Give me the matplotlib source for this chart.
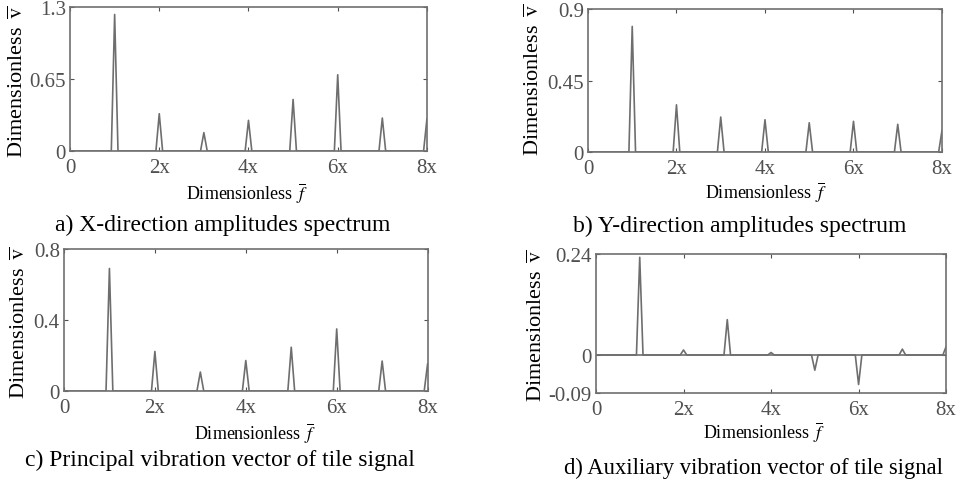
import numpy as np
import matplotlib
matplotlib.use('Agg')
import matplotlib.pyplot as plt

plt.rcParams['font.family'] = ['Liberation Serif', 'DejaVu Serif']
plt.rcParams['mathtext.fontset'] = 'stix'

# harmonic orders (1x .. 8x) and peak heights
orders       = [1, 2, 3, 4, 5, 6, 7, 8]
x_peaks      = [1.234, 0.337, 0.166, 0.277, 0.466, 0.689, 0.298, 0.29]
y_peaks      = [0.791, 0.297, 0.220, 0.203, 0.184, 0.193, 0.174, 0.136]
main_peaks   = [0.691, 0.223, 0.107, 0.172, 0.247, 0.350, 0.169, 0.154]
aux_peaks    = [0.232, 0.012, 0.084, 0.006, -0.036, -0.070, 0.014, 0.02]

xtick_vals   = [0, 2, 4, 6, 8]
xtick_labels = ['0', '2x', '4x', '6x', '8x']

captions = ['a) X-direction amplitudes spectrum',
            'b) Y-direction amplitudes spectrum',
            'c) Principal vibration vector of tile signal',
            'd) Auxiliary vibration vector of tile signal']
yticks_all = [[0, 0.65, 1.3], [0, 0.45, 0.9], [0, 0.4, 0.8], [-0.09, 0, 0.24]]
yticklabels_all = [['0', '0.65', '1.3'], ['0', '0.45', '0.9'],
                   ['0', '0.4', '0.8'], ['-0.09', '0', '0.24']]
peaks_all = [x_peaks, y_peaks, main_peaks, aux_peaks]

# axes boxes [left, bottom, width, height]
boxes = [[0.0728, 0.684, 0.371, 0.299],
         [0.6112, 0.682, 0.368, 0.297],
         [0.0665, 0.185, 0.378, 0.295],
         [0.6195, 0.181, 0.364, 0.289]]
cap_pos  = [(0.231, 0.532), (0.769, 0.530), (0.229, 0.042), (0.783, 0.027)]
cap_size = [17, 17, 17, 16.3]
xlab_pos = [(0.496, -0.285), (0.503, -0.273), (0.525, -0.289), (0.48, -0.273)]
ylab_pos = [(-0.146, 0.49), (-0.153, 0.51), (-0.121, 0.49), (-0.169, 0.49)]

half = 0.075


def spectrum_line(peaks):
    xs, ys = [0.0], [0.0]
    for k, h in zip(orders, peaks):
        xs += [k - half, k, k + half]
        ys += [0.0, h, 0.0]
    return xs, ys


fig = plt.figure(figsize=(9.62, 4.81), dpi=100)
line_col = '#6e6e6e'
tick_col = '#505050'

for i in range(4):
    ax = fig.add_axes(boxes[i])
    xs, ys = spectrum_line(peaks_all[i])
    ax.plot(xs, ys, color=line_col, lw=1.2)
    yt = yticks_all[i]
    ax.set_xlim(0, 8)
    ax.set_ylim(yt[0], yt[-1])
    ax.set_xticks(xtick_vals)
    ax.set_xticklabels(xtick_labels)
    ax.set_yticks(yt)
    ax.set_yticklabels(yticklabels_all[i])
    ax.tick_params(direction='in', length=3, width=0.8, colors=tick_col,
                   labelsize=15, top=True, right=True, pad=3)
    ax.tick_params(axis='x', pad=5)
    for sp in ax.spines.values():
        sp.set_color('#707070')
        sp.set_linewidth(1.2)
    ax.set_xlabel(r'Dimensionless $\,\overline{f}$', fontsize=13, va='center')
    ax.set_ylabel(r'Dimensionless $\,\overline{\mathrm{v}}$', fontsize=16, va='center')
    ax.xaxis.set_label_coords(*xlab_pos[i])
    ax.yaxis.set_label_coords(*ylab_pos[i])
    if i == 3:
        ax.axhline(0, color=line_col, lw=1.2)
    fig.text(cap_pos[i][0], cap_pos[i][1], captions[i], fontsize=cap_size[i],
             ha='center', va='center')

fig.savefig('out.png', dpi=100)
